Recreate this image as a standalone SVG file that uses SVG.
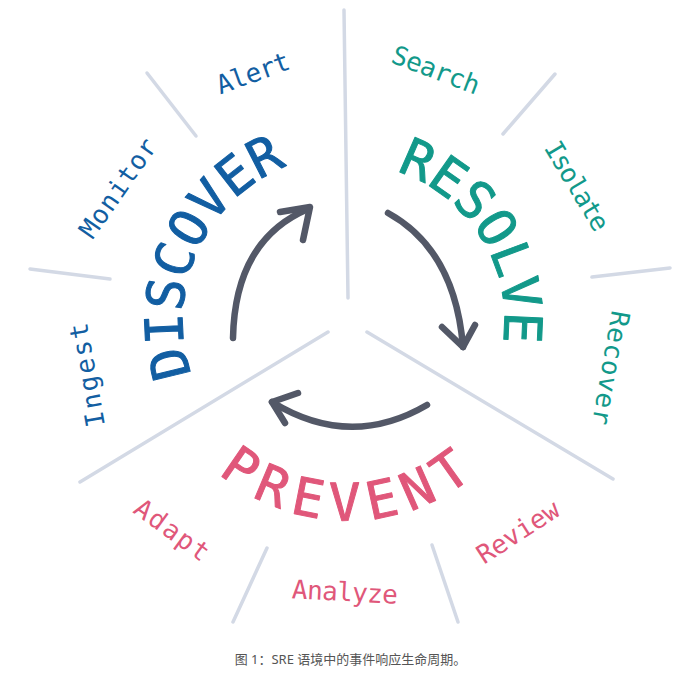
<svg xmlns="http://www.w3.org/2000/svg" width="675" height="673" viewBox="0 0 675 673">
<style>
.div{stroke:#d3d9e5;stroke-width:3.5;stroke-linecap:round;fill:none}
.arr{stroke:#535867;stroke-width:6.5;stroke-linecap:round;stroke-linejoin:round;fill:none}
.big{font-family:"DejaVu Sans Mono","Liberation Mono",monospace;font-size:52px;stroke-width:1;stroke-linejoin:round}
.lbl{font-family:"DejaVu Sans Mono","Liberation Mono",monospace;font-size:26px}
.blue{fill:#125ea2;stroke:#125ea2}
.teal{fill:#12998a;stroke:#12998a}
.pink{fill:#e0577a;stroke:#e0577a}
.lbl.blue,.lbl.teal,.lbl.pink{stroke:none}
.cap{font-family:"Noto Sans","Noto Sans CJK SC",sans-serif;font-size:13px;fill:#555}
</style>
<defs>
<path id="pD" d="M231.8,437.8 A165.5,165.5 0 0 1 361.3,155.0"/>
<path id="pR" d="M315.7,166.9 A156.5,156.5 0 0 1 471.2,416.6"/>
<path id="pP" d="M160.2,390.2 A200.5,200.5 0 0 0 537.0,386.9"/>
</defs>
<rect width="675" height="673" fill="#fff"/>
<g id="dividers">
<path class="div" d="M344,10 L348,298"/>
<path class="div" d="M328,332 L80,482"/>
<path class="div" d="M367,332 L613,479"/>
<path class="div" d="M147,73 L196,136"/>
<path class="div" d="M30,269 L110,279"/>
<path class="div" d="M555,74 L503,134"/>
<path class="div" d="M670,268 L592,277"/>
<path class="div" d="M267,548 L233,622"/>
<path class="div" d="M432,545 L458,622"/>
</g>
<g id="connectors">
<path class="arr" d="M233,338 Q235,240 308,209"/>
<path class="arr" d="M280,212 L310,207 L303,240"/>
<path class="arr" d="M388,213 Q455,250 463,347"/>
<path class="arr" d="M442,327 L463,347 L475,325"/>
<path class="arr" d="M427,405 Q350,450 272,402"/>
<path class="arr" d="M298,393 L272,402 L285,423"/>
</g>
<g id="discover">
<text class="big blue" letter-spacing="0.3"><textPath href="#pD" startOffset="50%" text-anchor="middle">DISCOVER</textPath></text>
<text class="lbl blue" transform="translate(253,73) rotate(-20)" text-anchor="middle" dominant-baseline="central" textLength="76" lengthAdjust="spacing">Alert</text>
<text class="lbl blue" transform="translate(118,188) rotate(-55)" text-anchor="middle" dominant-baseline="central" textLength="115" lengthAdjust="spacing">Monitor</text>
<text class="lbl blue" transform="translate(87,375) rotate(-100)" text-anchor="middle" dominant-baseline="central" textLength="105" lengthAdjust="spacing">Ingest</text>
</g>
<g id="resolve">
<text class="big teal" letter-spacing="0"><textPath href="#pR" startOffset="50%" text-anchor="middle">RESOLVE</textPath></text>
<text class="lbl teal" transform="translate(436,70) rotate(21)" text-anchor="middle" dominant-baseline="central" textLength="92" lengthAdjust="spacing">Search</text>
<text class="lbl teal" transform="translate(577,186) rotate(59)" text-anchor="middle" dominant-baseline="central" textLength="100" lengthAdjust="spacing">Isolate</text>
<text class="lbl teal" transform="translate(611,368) rotate(100)" text-anchor="middle" dominant-baseline="central" textLength="115" lengthAdjust="spacing">Recover</text>
</g>
<g id="prevent">
<text class="big pink" letter-spacing="9.5"><textPath href="#pP" startOffset="50%" text-anchor="middle">PREVENT</textPath></text>
<text class="lbl pink" transform="translate(518,532) rotate(-33)" text-anchor="middle" dominant-baseline="central" textLength="93" lengthAdjust="spacing">Review</text>
<text class="lbl pink" transform="translate(345,592) rotate(3)" text-anchor="middle" dominant-baseline="central" textLength="106" lengthAdjust="spacing">Analyze</text>
<text class="lbl pink" transform="translate(172,530) rotate(36)" text-anchor="middle" dominant-baseline="central" textLength="86" lengthAdjust="spacing">Adapt</text>
</g>
<g id="caption">
<text class="cap" x="350.5" y="664" text-anchor="middle">图 1：SRE 语境中的事件响应生命周期。</text>
</g>
</svg>
